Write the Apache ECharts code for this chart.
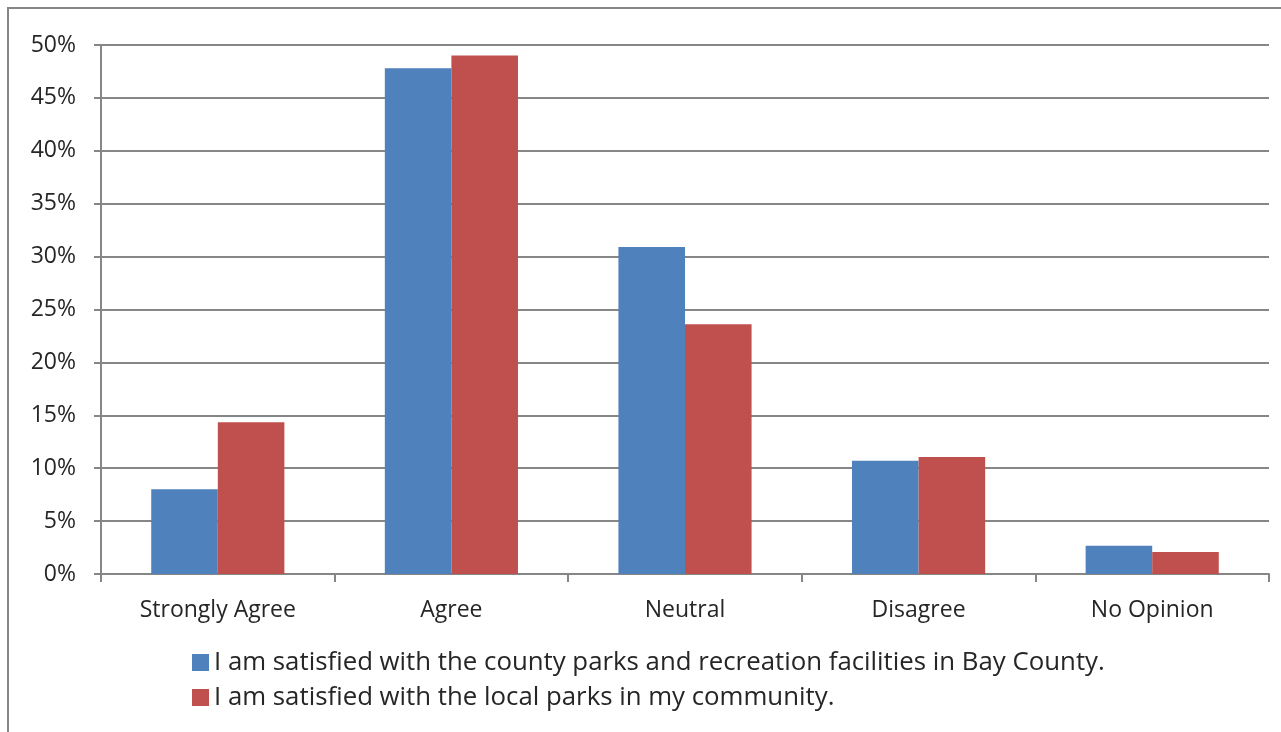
<!DOCTYPE html>
<html><head><meta charset="utf-8">
<script src="https://cdn.jsdelivr.net/npm/echarts@6/dist/echarts.min.js"></script>
<style>html,body{margin:0;padding:0;background:#fff}#c{width:1281px;height:732px}</style>
</head><body><div id="c"></div>
<script>
const categories = ['Strongly Agree','Agree','Neutral','Disagree','No Opinion'];
const countyParks = [8.0, 47.8, 30.9, 10.7, 2.67];
const localParks = [14.35, 49.0, 23.6, 11.05, 2.08];
const seriesNames = ['I am satisfied with the county parks and recreation facilities in Bay County.','I am satisfied with the local parks in my community.'];
const yTicks = [0,5,10,15,20,25,30,35,40,45,50];

const FONT = 'Open Sans';
const chart = echarts.init(document.getElementById('c'));
chart.setOption({
  animation:false,
  textStyle:{fontFamily:FONT,color:'#262626'},
  graphic:[{type:'polyline',shape:{points:[[8,740],[8,8],[1290,8]]},style:{stroke:'#868686',lineWidth:2,fill:null}}],
  grid:{left:101,right:12,top:45,bottom:158,containLabel:false},
  legend:{orient:'vertical',left:187,top:643,itemWidth:17,itemHeight:17,itemGap:6,icon:'rect',
    textStyle:{fontFamily:FONT,fontSize:25.8,color:'#262626',padding:[0,0,0,0],lineHeight:29},data:seriesNames},
  xAxis:{type:'category',data:categories,
    axisLine:{lineStyle:{color:'#868686',width:2}},
    axisTick:{show:true,length:8,lineStyle:{color:'#868686',width:2}},
    axisLabel:{fontFamily:FONT,fontSize:23,color:'#262626',margin:25}},
  yAxis:{type:'value',min:0,max:50,interval:5,
    axisLine:{show:true,lineStyle:{color:'#868686',width:2}},
    axisTick:{show:true,length:7,lineStyle:{color:'#868686',width:2}},
    splitLine:{lineStyle:{color:'#868686',width:2}},
    axisLabel:{fontFamily:FONT,fontSize:23,color:'#262626',margin:25,formatter:v=>v+'%'}},
  series:[
    {name:seriesNames[0],type:'bar',data:countyParks,barGap:'0%',barCategoryGap:'43%',itemStyle:{color:'#4F81BD'}},
    {name:seriesNames[1],type:'bar',data:localParks,barGap:'0%',barCategoryGap:'43%',itemStyle:{color:'#C0504D'}}
  ]
});
</script></body></html>
